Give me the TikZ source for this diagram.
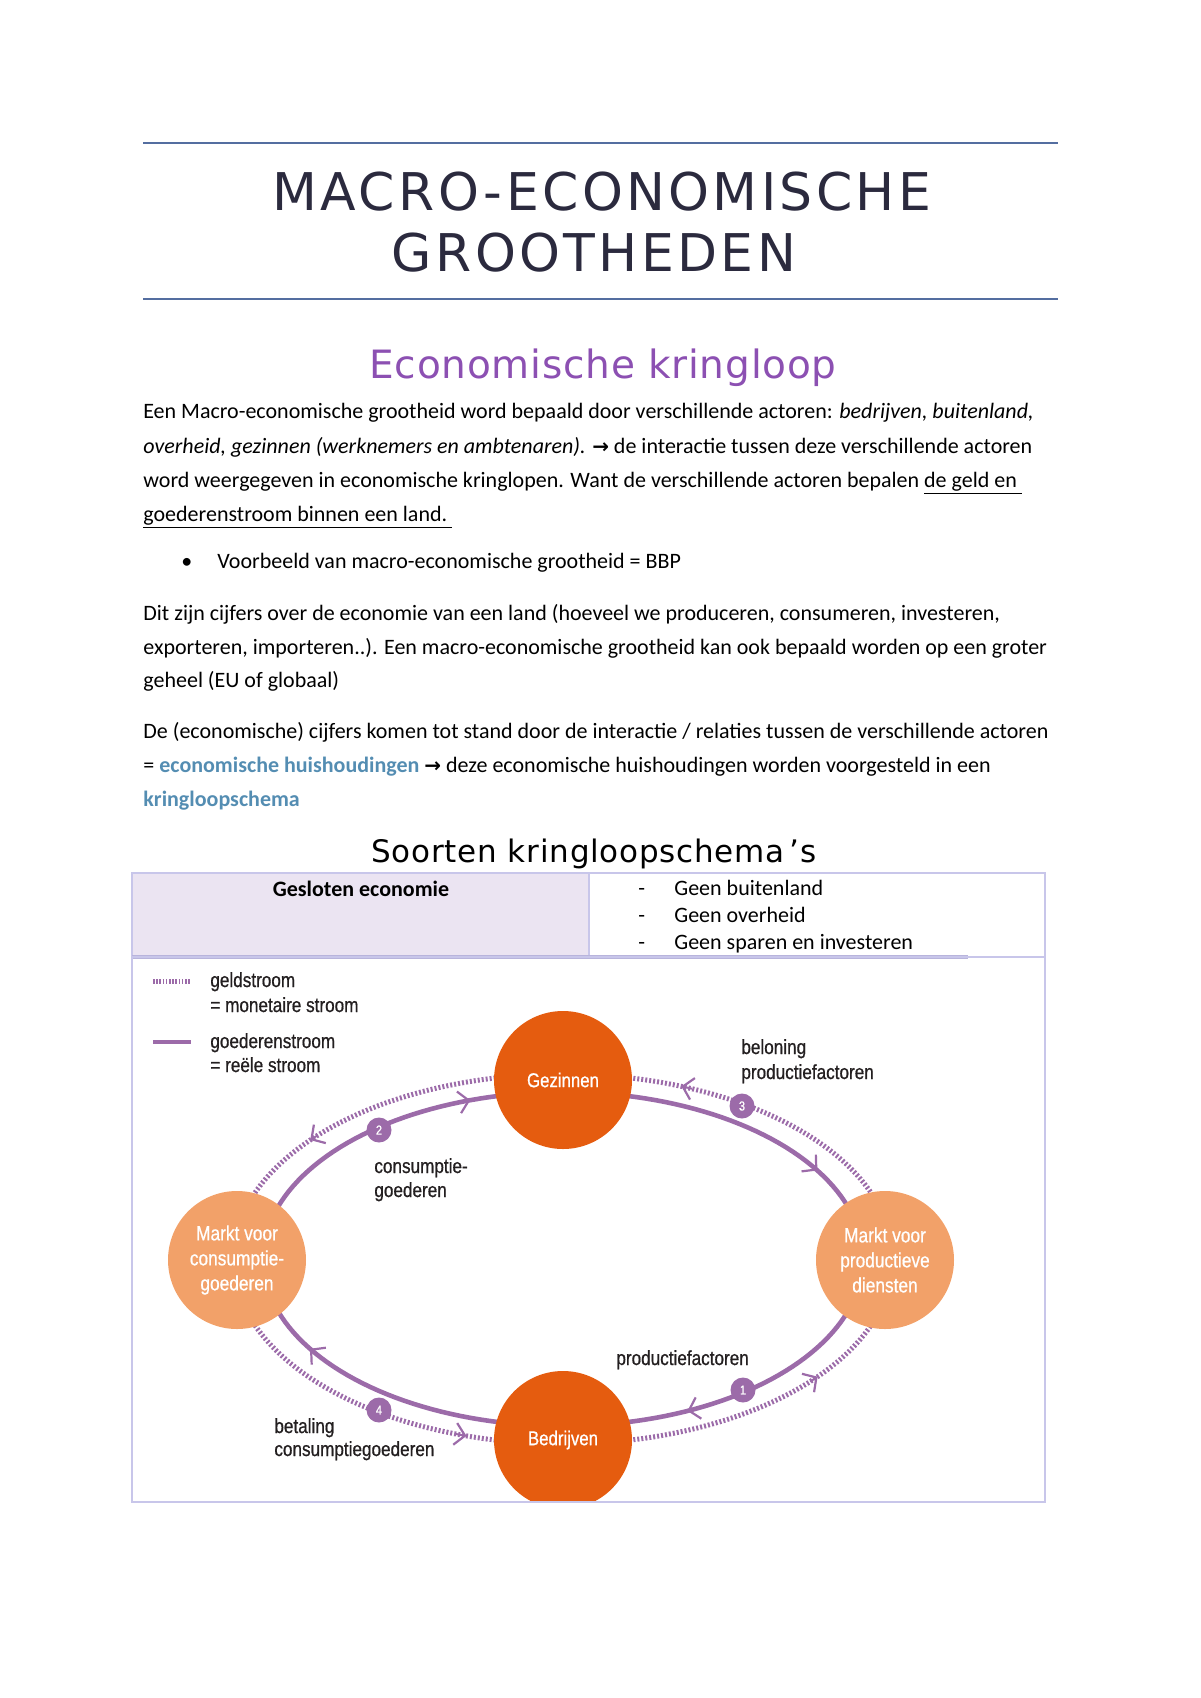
\documentclass[tikz,border=0pt]{standalone}
\usepackage{fontspec}
\setmainfont{Carlito}
\newfontfamily\symfont{DejaVu Sans}
\newfontfamily\titlefont[LetterSpace=6.5]{DejaVu Sans}
\newfontfamily\headfont[LetterSpace=2]{DejaVu Sans}
\newfontfamily\subheadfont[LetterSpace=2.5]{DejaVu Sans}
\newfontfamily\cond[FakeStretch=0.84,FakeBold=0.7]{Liberation Sans}
\usetikzlibrary{arrows.meta}
\definecolor{rulec}{RGB}{84,110,160}
\definecolor{titlec}{RGB}{43,42,62}
\definecolor{headc}{RGB}{140,80,178}
\definecolor{linkc}{RGB}{84,141,178}
\definecolor{tabc}{RGB}{200,198,234}
\definecolor{tabd}{RGB}{184,180,220}
\definecolor{cellc}{RGB}{235,228,242}
\definecolor{flowc}{RGB}{156,107,169}
\definecolor{darko}{RGB}{229,92,15}
\definecolor{lighto}{RGB}{242,161,105}
\definecolor{diagtext}{RGB}{35,31,32}
\tikzset{
  body/.style={anchor=base west, inner sep=0pt, font=\fontsize{11}{13}\selectfont},
  dlabel/.style={anchor=base west, inner sep=0pt, text=diagtext, font=\cond\fontsize{10.2}{12.5}\selectfont},
  bigc/.style={circle, fill=darko, minimum size=69pt, inner sep=0pt, text=white, align=center, font=\cond\fontsize{10}{12.5}\selectfont},
  smallc/.style={circle, fill=lighto, minimum size=69pt, inner sep=0pt, text=white, align=center, font=\cond\fontsize{10.3}{12.5}\selectfont},
  badge/.style={circle, fill=flowc, minimum size=12.5pt, inner sep=0pt, text=white, font=\cond\fontsize{6.5}{7}\selectfont},
  goods/.style={draw=flowc, line width=2.3pt},
  money/.style={draw=flowc, line width=2.5pt, dash pattern=on 1pt off 1pt},
  tipf/.style={draw=flowc, line width=1pt, -{Straight Barb[length=5pt,width=11pt,line width=1.1pt]}},
  hrule/.style={draw=rulec, line width=1.3pt},
  tabline/.style={draw=tabc, line width=1pt},
  arr/.style={}
}
\newcommand{\rarr}{{\symfont\bfseries\fontsize{10}{12}\selectfont →}}
\begin{document}
\begin{tikzpicture}[x=0.5pt,y=-0.5pt]
\useasboundingbox (0,0) rectangle (1200,1698);

% ---------- title block ----------
\coordinate (r1a) at (143,143); \coordinate (r1b) at (1058,143);
\coordinate (r2a) at (143,299); \coordinate (r2b) at (1058,299);
\draw[hrule] (r1a) -- (r1b);
\draw[hrule] (r2a) -- (r2b);
\node[anchor=base, inner sep=0pt, text=titlec, font=\titlefont\fontsize{26}{30}\selectfont] (t1) at (602,210) {MACRO-ECONOMISCHE};
\node[anchor=base, inner sep=0pt, text=titlec, font=\titlefont\fontsize{26}{30}\selectfont] (t2) at (594,271) {GROOTHEDEN};

\node[anchor=base, inner sep=0pt, text=headc, font=\headfont\fontsize{19.5}{22}\selectfont] (h1) at (603,378) {Economische kringloop};

% ---------- body text ----------
\node[body] (l1) at (143,418) {Een Macro-economische grootheid word bepaald door verschillende actoren: \textit{bedrijven, buitenland,}};
\node[body] (l2) at (143,453) {\textit{overheid, gezinnen (werknemers en ambtenaren).} \rarr{} de interactie tussen deze verschillende actoren};
\node[body] (l3) at (143,487) {word weergegeven in economische kringlopen. Want de verschillende actoren bepalen \underline{de geld en\ }};
\node[body] (l4) at (143,521) {\underline{goederenstroom binnen een land.\ }};

\node[body] (bul) at (181,568) {•};
\node[body] (b1) at (217,568) {Voorbeeld van macro-economische grootheid = BBP};

\node[body] (p1) at (143,620) {Dit zijn cijfers over de economie van een land (hoeveel we produceren, consumeren, investeren,};
\node[body] (p2) at (143,654) {exporteren, importeren..). Een macro-economische grootheid kan ook bepaald worden op een groter};
\node[body] (p3) at (143,687) {geheel (EU of globaal)};

\node[body] (q1) at (143,738) {De (economische) cijfers komen tot stand door de interactie / relaties tussen de verschillende actoren};
\node[body] (q2) at (143,772) {= \textcolor{linkc}{\textbf{economische huishoudingen}} \rarr{} deze economische huishoudingen worden voorgesteld in een};
\node[body] (q3) at (143,806) {\textcolor{linkc}{\textbf{kringloopschema}}};

\node[anchor=base, inner sep=0pt, font=\subheadfont\fontsize{15.5}{18}\selectfont] (h2) at (594,862) {Soorten kringloopschema\kern2.5pt’s};

% ---------- table ----------
\fill[cellc] (132,873) rectangle (589,957);
\draw[tabline] (132,873) rectangle (1045,957);
\draw[tabline] (589,873) -- (589,957);
\draw[draw=tabd, line width=1.6pt] (132,957) -- (968,957);
\node[anchor=base, inner sep=0pt, font=\bfseries\fontsize{11}{13}\selectfont] (ge) at (361,896) {Gesloten economie};
\node[body] (d1) at (638,895) {-};
\node[body] (g1) at (674,895) {Geen buitenland};
\node[body] (d2) at (638,922) {-};
\node[body] (g2) at (674,922) {Geen overheid};
\node[body] (d3) at (638,949) {-};
\node[body] (g3) at (674,949) {Geen sparen en investeren};

% ---------- diagram ----------
\begin{scope}
\clip (132,957) rectangle (1045,1502);
% flows (drawn first, circles on top)
\draw[money] plot[domain=0:360, samples=181] ({563+330*cos(\x)},{1259+185*sin(\x)});
\draw[goods] plot[domain=0:360, samples=181] ({563+300*cos(\x)},{1259+167*sin(\x)});
% arrow tips: goods clockwise, money counter-clockwise
\draw[tipf] ({563+300*cos(250)},{1259+167*sin(250)}) -- ({563+300*cos(252)},{1259+167*sin(252)});
\draw[tipf] ({563+300*cos(326)},{1259+167*sin(326)}) -- ({563+300*cos(328)},{1259+167*sin(328)});
\draw[tipf] ({563+300*cos(63.5)},{1259+167*sin(63.5)}) -- ({563+300*cos(65.5)},{1259+167*sin(65.5)});
\draw[tipf] ({563+300*cos(145.5)},{1259+167*sin(145.5)}) -- ({563+300*cos(147.5)},{1259+167*sin(147.5)});
\draw[tipf] ({563+330*cos(222)},{1259+185*sin(222)}) -- ({563+330*cos(220)},{1259+185*sin(220)});
\draw[tipf] ({563+330*cos(293)},{1259+185*sin(293)}) -- ({563+330*cos(291)},{1259+185*sin(291)});
\draw[tipf] ({563+330*cos(41.5)},{1259+185*sin(41.5)}) -- ({563+330*cos(39.5)},{1259+185*sin(39.5)});
\draw[tipf] ({563+330*cos(109)},{1259+185*sin(109)}) -- ({563+330*cos(107)},{1259+185*sin(107)});

\node[bigc] (gez) at (563,1080) {Gezinnen};
\node[bigc] (bed) at (563,1440) {Bedrijven};
\node[smallc] (mcons) at (237,1260) {Markt voor\\consumptie-\\goederen};
\node[smallc] (mprod) at (885,1260) {Markt voor\\productieve\\diensten};

\node[badge] (n2) at (379,1130) {2};
\node[badge] (n3) at (742,1106) {3};
\node[badge] (n1) at (743,1390) {1};
\node[badge] (n4) at (379,1410) {4};
\end{scope}
\draw[tabline] (132,957) rectangle (1045,1502);

% legend
\coordinate (lga) at (153,981); \coordinate (lgb) at (191,981);
\coordinate (lsa) at (153,1042); \coordinate (lsb) at (191,1042);
\draw[draw=flowc, line width=2.5pt, dash pattern=on 0.8pt off 0.8pt] (lga) -- (lgb);
\draw[goods] (lsa) -- (lsb);
\node[dlabel] (lg1) at (210,987) {geldstroom};
\node[dlabel] (lg2) at (210,1012) {= monetaire stroom};
\node[dlabel] (lg3) at (210,1048) {goederenstroom};
\node[dlabel] (lg4) at (210,1072) {= reële stroom};

% flow labels
\node[dlabel] (la1) at (741,1054) {beloning};
\node[dlabel] (la2) at (741,1079) {productiefactoren};
\node[dlabel] (lb1) at (374,1173) {consumptie-};
\node[dlabel] (lb2) at (374,1197) {goederen};
\node[dlabel] (lc1) at (616,1365) {productiefactoren};
\node[dlabel] (ld1) at (274,1433) {betaling};
\node[dlabel] (ld2) at (274,1456) {consumptiegoederen};
\end{tikzpicture}
\end{document}
